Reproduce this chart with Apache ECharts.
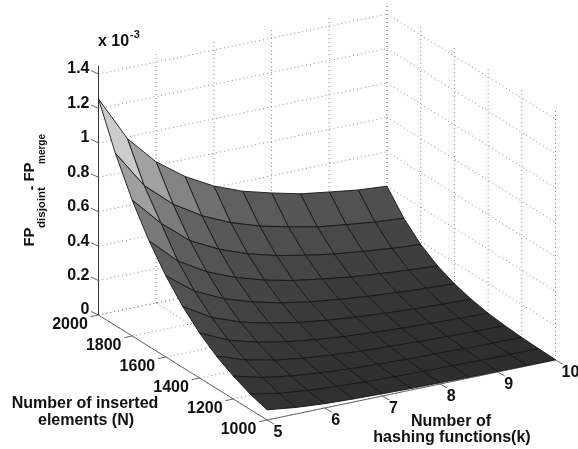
<!DOCTYPE html>
<html>
<head>
<meta charset="utf-8">
<style>html,body{margin:0;padding:0;background:#fff}#c{width:578px;height:449px}</style>
<script src="https://cdn.jsdelivr.net/npm/echarts@6/dist/echarts.min.js"></script>
</head>
<body>
<div id="c"></div>
<script>
// ---- data ----
const kValues = [5,5.5,6,6.5,7,7.5,8,8.5,9,9.5,10];
const nValues = [2000,1900,1800,1700,1600,1500,1400,1300,1200,1100,1000];
// difference x 10^-3, one row per N (2000 first), one column per k (5 first)
const row2000 = [1.255,.99,.82,.70,.61,.545,.50,.46,.436,.413,.40];
const row1900 = [1.001,.778,.635,.533,.458,.403,.364,.329,.307,.287,.274];
const row1800 = [.789,.62,.484,.400,.338,.293,.260,.232,.213,.195,.183];
const row1700 = [.614,.461,.364,.296,.246,.209,.183,.160,.144,.130,.120];
const row1600 = [.471,.347,.269,.215,.175,.146,.126,.108,.095,.085,.077];
const row1500 = [.354,.256,.194,.153,.122,.100,.084,.071,.061,.054,.048];
const row1400 = [.261,.185,.138,.106,.083,.066,.055,.045,.038,.033,.028];
const row1300 = [.188,.131,.095,.071,.055,.043,.035,.028,.023,.019,.016];
const row1200 = [.133,.090,.064,.047,.035,.027,.021,.017,.014,.011,.009];
const row1100 = [.090,.059,.041,.029,.021,.016,.012,.010,.007,.006,.005];
const row1000 = [.059,.038,.025,.018,.013,.009,.007,.005,.004,.003,.002];
const rows = [row2000,row1900,row1800,row1700,row1600,row1500,row1400,row1300,row1200,row1100,row1000];
const kTicks = [5,6,7,8,9,10];
const nTicks = [2000,1800,1600,1400,1200,1000];
const zTicks = [0,0.2,0.4,0.6,0.8,1,1.2,1.4];
const zTop = 1.447;

// ---- fixed 3D view (orthographic) onto a pixel-scaled hidden cartesian ----
function proj(k,n,z){
  const a=(k-5)/5, b=(2000-n)/1000;
  return [98.5+a*288.5+b*168.5, 315-a*60+b*105-z*172.1];
}
function grayOf(z){
  const g = z<0.5 ? 45+z*100 : 95+(z-0.5)*215;
  const v = Math.round(Math.min(255,g));
  return 'rgb('+v+','+v+','+v+')';
}
const quads=[];
for(let j=0;j<10;j++) for(let i=9;i>=0;i--) quads.push([i,j]);

const dotted=[];
kTicks.forEach(k=>{
  dotted.push([[k,2000,0],[k,2000,zTop]]);
  dotted.push([[k,2000,0],[k,1000,0]]);
});
nTicks.forEach(n=>{
  dotted.push([[10,n,0],[10,n,zTop]]);
  dotted.push([[5,n,0],[10,n,0]]);
});
zTicks.forEach(z=>{
  dotted.push([[5,2000,z],[10,2000,z]]);
  dotted.push([[10,2000,z],[10,1000,z]]);
});
const axisLines=[
  {a:[5,2000,0],b:[5,2000,zTop],c:'#333'},
  {a:[5,2000,0],b:[5,1000,0],c:'#666'},
  {a:[5,1000,0],b:[10,1000,0],c:'#666'}
];
const ticks=[];
zTicks.forEach(z=>ticks.push({p:[5,2000,z],d:[-7.5,-3.5]}));
nTicks.forEach(n=>ticks.push({p:[5,n,0],d:[-8,1.7]}));
kTicks.forEach(k=>ticks.push({p:[k,1000,0],d:[7,4]}));

const font='Liberation Sans, Arial, sans-serif';
const labels=[];
zTicks.forEach(z=>labels.push({p:[5,2000,z],dx:-9,dy:-5,t:String(z),al:'right'}));
nTicks.forEach(n=>labels.push({p:[5,n,0],dx:-28.5,dy:10,t:String(n),al:'center'}));
kTicks.forEach(k=>labels.push({p:[k,1000,0],dx:k===10?15:11,dy:12.5,t:String(k),al:'center'}));

const chart=echarts.init(document.getElementById('c'),null,{renderer:'canvas'});
function lineEl(api,p,q,stroke,dash,w){
  const s=api.coord(p), e=api.coord(q);
  return {type:'line',silent:true,shape:{x1:s[0],y1:s[1],x2:e[0],y2:e[1]},
    style:{stroke:stroke,lineWidth:w||1,lineDash:dash||null,fill:null}};
}
const text=(x,y,t,o)=>Object.assign({type:'text',silent:true,x:x,y:y,
  style:{text:t,font:'bold '+((o&&o.s)||16)+'px '+font,fill:'#111',
    textAlign:(o&&o.al)||'center',textVerticalAlign:'middle'}},
  o&&o.rot?{rotation:o.rot}:{});

chart.setOption({
  animation:false,
  backgroundColor:'#fff',
  grid:{left:0,right:0,top:0,bottom:0},
  xAxis:{type:'value',min:0,max:578,show:false},
  yAxis:{type:'value',min:0,max:449,inverse:true,show:false},
  series:[
    {type:'custom',name:'walls',coordinateSystem:'cartesian2d',clip:false,silent:true,z:1,
     data:dotted.map((_,i)=>[i]),
     renderItem:(params,api)=>{
       const d=dotted[params.dataIndex];
       return lineEl(api,proj(...d[0]),proj(...d[1]),'#888',[1,3]);
     }},
    {type:'custom',name:'surface',coordinateSystem:'cartesian2d',clip:false,silent:true,z:3,
     data:quads.map((_,i)=>[i]),
     renderItem:(params,api)=>{
       const [i,j]=quads[params.dataIndex];
       const c=[[i,j],[i+1,j],[i+1,j+1],[i,j+1]];
       const pts=c.map(([a,b])=>api.coord(proj(kValues[a],nValues[b],rows[b][a])));
       const avg=c.reduce((s,[a,b])=>s+rows[b][a],0)/4;
       return {type:'polygon',silent:true,shape:{points:pts},
         style:{fill:grayOf(avg),stroke:'#161616',lineWidth:0.9,lineJoin:'round'}};
     }},
    {type:'custom',name:'axes',coordinateSystem:'cartesian2d',clip:false,silent:true,z:2,
     data:axisLines.map((_,i)=>[i]),
     renderItem:(params,api)=>{
       const l=axisLines[params.dataIndex];
       return lineEl(api,proj(...l.a),proj(...l.b),l.c);
     }},
    {type:'custom',name:'ticks',coordinateSystem:'cartesian2d',clip:false,silent:true,z:2,
     data:ticks.map((_,i)=>[i]),
     renderItem:(params,api)=>{
       const t=ticks[params.dataIndex], p=proj(...t.p);
       return lineEl(api,p,[p[0]+t.d[0],p[1]+t.d[1]],'#666');
     }},
    {type:'custom',name:'tickLabels',coordinateSystem:'cartesian2d',clip:false,silent:true,z:4,
     data:labels.map((_,i)=>[i]),
     renderItem:(params,api)=>{
       const l=labels[params.dataIndex], p=api.coord(proj(...l.p));
       return text(p[0]+l.dx,p[1]+l.dy,l.t,{al:l.al});
     }}
  ],
  graphic:[
    text(98,42,'x 10',{al:'left'}),
    text(130,35,'-3',{al:'left',s:11}),
    text(85,404,'Number of inserted'),
    text(86,421,'elements (N)'),
    text(451,422,'Number of'),
    text(452,438,'hashing functions(k)'),
    text(30,237,'FP',{rot:Math.PI/2,s:15}),
    text(41.5,207.5,'disjoint',{rot:Math.PI/2,s:11.5}),
    text(32,188,'-',{rot:Math.PI/2,s:14}),
    text(30,172,'FP',{rot:Math.PI/2,s:15}),
    text(42,149,'merge',{rot:Math.PI/2,s:10})
  ]
});
</script>
</body>
</html>
